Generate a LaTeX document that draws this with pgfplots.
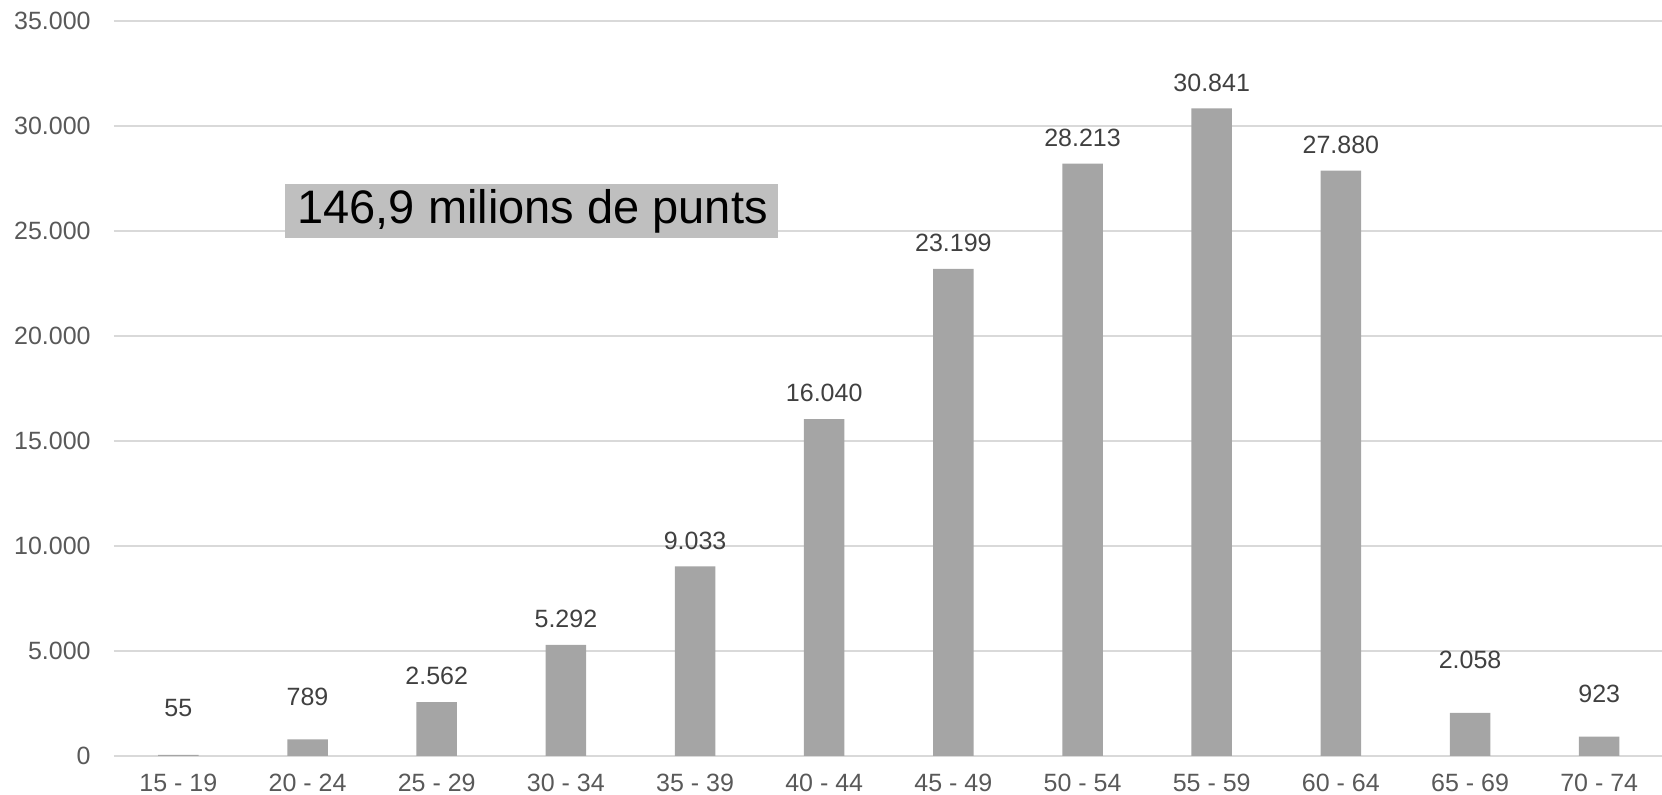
\documentclass[border=0pt]{standalone}
\usepackage{pgfplots}
\pgfplotsset{compat=1.18}
\usepackage{fontspec}
\setmainfont{Liberation Sans}
\definecolor{bargray}{RGB}{165,165,165}
\definecolor{boxgray}{RGB}{191,191,191}
\definecolor{gridgray}{RGB}{217,217,217}
\definecolor{ticktext}{RGB}{89,89,89}
\definecolor{valtext}{RGB}{64,64,64}

\begin{document}
\begin{tikzpicture}
  \begin{axis}[
      scale only axis,
      width=775pt,
      height=367.5pt,
      xmin=-0.5, xmax=11.5,
      ymin=0, ymax=35000,
      ytick distance=5000,
      scaled y ticks=false,
      xtick=data,
      xticklabels={15 - 19, 20 - 24, 25 - 29, 30 - 34, 35 - 39, 40 - 44,
                   45 - 49, 50 - 54, 55 - 59, 60 - 64, 65 - 69, 70 - 74},
      axis line style={draw=none},
      tick style={draw=none},
      ymajorgrids,
      grid style={gridgray, line width=0.75pt},
      /pgf/number format/.cd, 1000 sep={.}, assume math mode=true,
      /pgfplots/.cd,
      ticklabel style={font=\fontsize{12.5}{15}\selectfont, text=ticktext, inner sep=0pt},
      xticklabel style={anchor=north, yshift=-4.6pt},
      yticklabel style={anchor=east, xshift=-11.4pt},
      ybar,
      bar width=20.25pt,
      nodes near coords,
      visualization depends on={\thisrow{off} \as \offv},
      nodes near coords style={font=\fontsize{12.5}{15}\selectfont, text=valtext,
        inner sep=0pt, anchor=center, yshift=12.9pt+\offv pt,
        /pgf/number format/.cd, fixed, precision=0, 1000 sep={.}},
    ]
    \addplot[fill=bargray, draw=none] table {
      x  y     off
      0  55    10.6
      1  789   8.2
      2  2562  0
      3  5292  0
      4  9033  0
      5  16040 0
      6  23199 0
      7  28213 0
      8  30841 0
      9  27880 0
      10 2058  13.4
      11 923   8.3
    };
    \node[fill=boxgray, anchor=west, inner sep=0pt, minimum height=27pt]
      at (axis cs:0.826,25950)
      {\makebox[246.5pt][l]{\fontsize{23.5}{28}\selectfont\hspace{6pt}146,9 milions de punts}};
  \end{axis}
  \pgfresetboundingbox
  \path (current axis.south west) ++(-56.9pt,-19.5pt) rectangle ++(831pt,397.5pt);
\end{tikzpicture}
\end{document}
